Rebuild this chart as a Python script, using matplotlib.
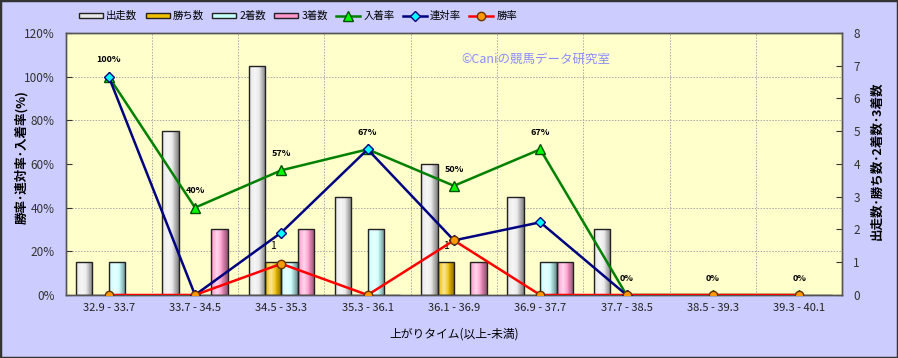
import numpy as np
import matplotlib
matplotlib.use("Agg")
import matplotlib.pyplot as plt
from matplotlib.patches import Rectangle
from matplotlib.colors import to_rgb

plt.rcParams["font.family"] = ["Noto Sans CJK JP", "DejaVu Sans"]

categories = ["32.9 - 33.7", "33.7 - 34.5", "34.5 - 35.3", "35.3 - 36.1", "36.1 - 36.9",
              "36.9 - 37.7", "37.7 - 38.5", "38.5 - 39.3", "39.3 - 40.1"]
runs = [1, 5, 7, 3, 4, 3, 2, 0, 0]
wins = [0, 0, 1, 0, 1, 0, 0, 0, 0]
seconds = [1, 0, 1, 2, 0, 1, 0, 0, 0]
thirds = [0, 2, 2, 0, 1, 1, 0, 0, 0]
place_rate = [100, 40, 57.1, 66.7, 50, 66.7, 0, 0, 0]
quinella_rate = [100, 0, 28.6, 66.7, 25, 33.3, 0, 0, 0]
win_rate = [0, 0, 14.3, 0, 25, 0, 0, 0, 0]
place_labels = ["100%", "40%", "57%", "67%", "50%", "67%", "0%", "0%", "0%"]

BG = "#CCCCFF"
PLOT_BG = "#FFFFCC"


def shade_bars(ax, bars, color):
    # cylinder-like horizontal gradient on every bar
    base = np.array(to_rgb(color))
    t = np.linspace(0, 1, 32)
    light = 1 - np.abs(t - 0.35) / 0.65
    grad = np.empty((1, len(t), 3))
    for i, l in enumerate(light):
        dark = base * 0.55
        mid = dark + (base - dark) * min(1, l * 1.6)
        grad[0, i] = mid + (1 - mid) * max(0, l - 0.5) * 1.2
    grad = np.clip(grad, 0, 1)
    for b in bars:
        if b.get_height() <= 0:
            continue
        x0, y0 = b.get_x(), b.get_y()
        im = ax.imshow(grad, aspect="auto", extent=(x0, x0 + b.get_width(), y0, y0 + b.get_height()),
                       zorder=2, interpolation="bilinear")
        im.set_clip_path(b)


fig = plt.figure(figsize=(8.98, 3.58), dpi=100, facecolor=BG)
ax = fig.add_axes([0.073, 0.176, 0.865, 0.732])
ax2 = ax.twinx()

x = np.arange(len(categories))
w = 0.19
bar_specs = [
    (runs, "#E8E8E8", "出走数", -1.5),
    (wins, "#F0C000", "勝ち数", -0.5),
    (seconds, "#C8FFFF", "2着数", 0.5),
    (thirds, "#FF99CC", "3着数", 1.5),
]
bar_handles = []
for vals, col, lab, off in bar_specs:
    bars = ax.bar(x + off * w, vals, w, color=col, edgecolor="#222222", linewidth=1.0,
                  zorder=3, label=lab)
    for b in bars:
        b.set_facecolor("none")
    shade_bars(ax, bars, col)
    bar_handles.append(Rectangle((0, 0), 1, 1, facecolor=col, edgecolor="#222222", linewidth=1.0))

for b, v in zip(ax.patches[len(x):2 * len(x)], wins):
    if v > 0:
        ax.annotate(str(v), (b.get_x() + b.get_width() / 2, v), xytext=(0, 12),
                    textcoords="offset points", ha="center", va="center", fontsize=7.5, zorder=4)

ax.set_xlim(-0.5, len(categories) - 0.5)
ax.set_ylim(0, 8)
ax.set_facecolor(PLOT_BG)
ax.yaxis.tick_right()
ax.set_yticks(range(9))
ax.set_yticks(np.linspace(0, 8, 7), minor=True)
ax.set_xticks(x)
ax.set_xticklabels(categories, fontsize=8)
ax.set_xticks(np.arange(-0.5, len(categories)), minor=True)
ax.tick_params(axis="x", which="both", length=0, pad=6, colors="#222222")
ax.tick_params(axis="y", which="major", direction="in", length=4, labelsize=8.5, colors="#333333",
               pad=8)
ax.tick_params(axis="y", which="minor", length=0)
ax.grid(which="minor", color="#A8A8A8", linestyle=(0, (1.5, 1.5)), linewidth=0.7, zorder=0)
ax.set_axisbelow(True)
ax.set_xlabel("上がりタイム(以上-未満)", fontsize=8.5, labelpad=10)

l1, = ax2.plot(x, place_rate, color="#008000", linewidth=1.8, marker="^", markersize=7,
               markerfacecolor="#00FF00", markeredgecolor="#005000", label="入着率", zorder=3)
l2, = ax2.plot(x[:7], quinella_rate[:7], color="#000080", linewidth=1.8, marker="D", markersize=5,
               markerfacecolor="#00FFFF", markeredgecolor="#000080", label="連対率", zorder=4)
l3, = ax2.plot(x, win_rate, color="#FF0000", linewidth=1.8, marker="o", markersize=6,
               markerfacecolor="#FF9900", markeredgecolor="#663300", label="勝率", zorder=5)
for xi, v, lab in zip(x, place_rate, place_labels):
    ax2.annotate(lab, (xi, v), xytext=(0, 12), textcoords="offset points", ha="center",
                 va="center", fontsize=6.5, fontweight="bold")

ax2.set_ylim(0, 120)
ax2.set_yticks(range(0, 121, 20))
ax2.set_yticklabels([f"{v}%" for v in range(0, 121, 20)])
ax2.yaxis.tick_left()
ax2.tick_params(axis="y", direction="in", length=4, labelsize=8.5, colors="#333333", pad=8)
ax2.set_xlim(-0.5, len(categories) - 0.5)

for a in (ax, ax2):
    for s in a.spines.values():
        s.set_color("#555555")
        s.set_linewidth(1.0)

fig.text(0.024, 0.56, "勝率･連対率･入着率(%)", rotation=90, ha="center", va="center",
         fontsize=9, fontweight="bold")
fig.text(0.977, 0.55, "出走数･勝ち数･2着数･3着数", rotation=90, ha="center", va="center",
         fontsize=9, fontweight="bold")

ax2.text(0.51, 0.9, "©Caniの競馬データ研究室", transform=ax2.transAxes, fontsize=9,
         color="#8C8CFF", ha="left", va="center")

fig.legend(bar_handles + [l1, l2, l3], ["出走数", "勝ち数", "2着数", "3着数", "入着率", "連対率", "勝率"],
           loc="center left", bbox_to_anchor=(0.088, 0.955), ncol=7, frameon=False, fontsize=7.5,
           handlelength=2.3, handleheight=0.5, columnspacing=0.8, handletextpad=0.3,
           borderaxespad=0, borderpad=0)

fig.patches.append(Rectangle((0, 0), 1, 1, transform=fig.transFigure, fill=False,
                             edgecolor="#333333", linewidth=2.5))

fig.savefig("out.png", dpi=100, facecolor=BG)
